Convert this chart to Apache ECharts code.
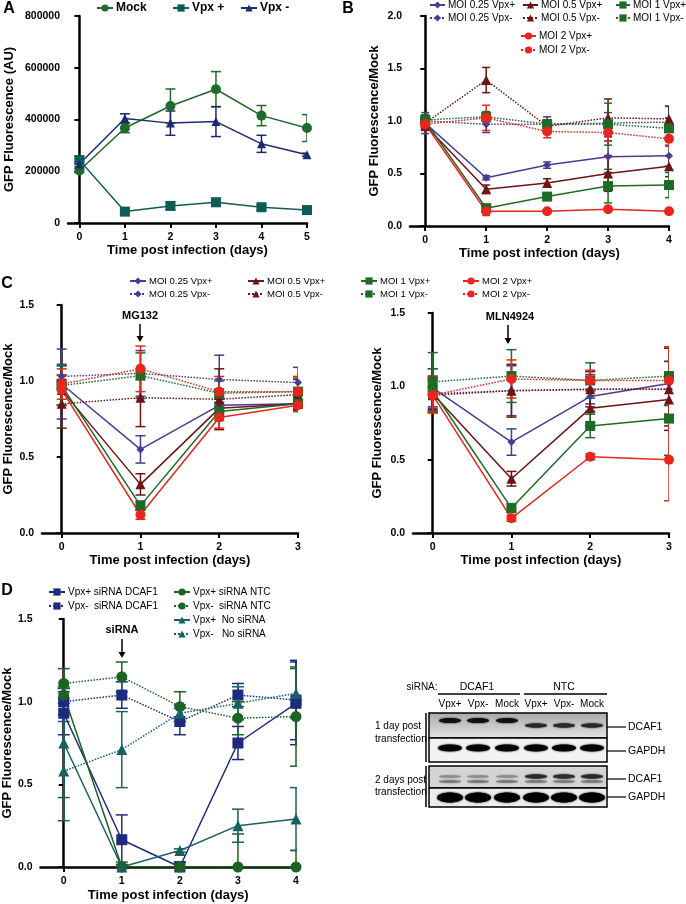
<!DOCTYPE html>
<html>
<head>
<meta charset="utf-8">
<script src="https://cdn.jsdelivr.net/npm/echarts@6/dist/echarts.min.js"></script>
<style>html,body{margin:0;padding:0;background:#fff}#c{width:686px;height:904px}</style>
</head>
<body>
<div id="c"></div>
<script>
// ---------- DATA ----------
// Panel A
const daysA = [0, 1, 2, 3, 4, 5];
const A_mock = [203000, 367000, 452000, 517000, 415000, 367000];
const A_mock_err = [8000, 18000, 66000, 68000, 39000, 52000];
const A_vpxPlus = [243000, 44000, 66000, 80000, 61000, 50000];
const A_vpxPlus_err = [15000, 8000, 14000, 15000, 10000, 10000];
const A_vpxMinus = [228000, 404000, 386000, 392000, 306000, 264000];
const A_vpxMinus_err = [10000, 18000, 47000, 58000, 33000, 6000];
const A_yTicks = [0, 200000, 400000, 600000, 800000];

// Panel B
const daysB = [0, 1, 2, 3, 4];
const B_025p = [0.98, 0.46, 0.58, 0.66, 0.67];
const B_025p_err = [0.10, 0.02, 0.03, 0.15, 0.10];
const B_025m = [1.00, 0.97, 0.97, 0.98, 0.99];
const B_025m_err = [0.05, 0.08, 0.07, 0.10, 0.15];
const B_05p = [0.96, 0.35, 0.41, 0.50, 0.57];
const B_05p_err = [0.05, 0.04, 0.04, 0.17, 0.10];
const B_05m = [0.98, 1.39, 0.95, 1.03, 1.02];
const B_05m_err = [0.05, 0.12, 0.05, 0.18, 0.12];
const B_1p = [1.00, 0.17, 0.28, 0.38, 0.39];
const B_1p_err = [0.06, 0.02, 0.03, 0.16, 0.12];
const B_1m = [1.01, 1.04, 0.97, 0.97, 0.93];
const B_1m_err = [0.05, 0.05, 0.04, 0.20, 0.10];
const B_2p = [0.97, 0.14, 0.14, 0.16, 0.14];
const B_2p_err = [0.05, 0.04, 0.01, 0.01, 0.01];
const B_2m = [0.97, 1.03, 0.90, 0.89, 0.83];
const B_2m_err = [0.05, 0.12, 0.06, 0.08, 0.07];

// Panel C (left: MG132, right: MLN4924)
const daysC = [0, 1, 2, 3];
const CL_025p = [0.98, 0.55, 0.84, 0.85];  const CL_025p_err = [0.23, 0.09, 0.05, 0.04];
const CL_025m = [1.03, 1.05, 1.01, 0.99];  const CL_025m_err = [0.08, 0.15, 0.16, 0.10];
const CL_05p  = [0.94, 0.32, 0.82, 0.85];  const CL_05p_err  = [0.10, 0.07, 0.06, 0.05];
const CL_05m  = [0.85, 0.89, 0.88, 0.91];  const CL_05m_err  = [0.16, 0.19, 0.20, 0.10];
const CL_1p   = [0.97, 0.18, 0.80, 0.85];  const CL_1p_err   = [0.13, 0.03, 0.06, 0.05];
const CL_1m   = [0.97, 1.035, 0.92, 0.93]; const CL_1m_err   = [0.13, 0.15, 0.08, 0.09];
const CL_2p   = [0.94, 0.12, 0.76, 0.84];  const CL_2p_err   = [0.10, 0.03, 0.07, 0.04];
const CL_2m   = [0.98, 1.08, 0.93, 0.93];  const CL_2m_err   = [0.10, 0.15, 0.10, 0.10];

const CR_025p = [0.99, 0.62, 0.93, 1.02];  const CR_025p_err = [0.13, 0.09, 0.10, 0.15];
const CR_025m = [0.95, 0.97, 0.98, 0.98];  const CR_025m_err = [0.10, 0.17, 0.10, 0.19];
const CR_05p  = [0.95, 0.37, 0.85, 0.91];  const CR_05p_err  = [0.12, 0.05, 0.12, 0.18];
const CR_05m  = [0.94, 0.97, 0.98, 0.98];  const CR_05m_err  = [0.10, 0.18, 0.12, 0.28];
const CR_1p   = [0.97, 0.17, 0.73, 0.78];  const CR_1p_err   = [0.15, 0.03, 0.08, 0.25];
const CR_1m   = [1.03, 1.07, 1.04, 1.07];  const CR_1m_err   = [0.20, 0.18, 0.12, 0.20];
const CR_2p   = [0.94, 0.10, 0.52, 0.50];  const CR_2p_err   = [0.12, 0.02, 0.02, 0.28];
const CR_2m   = [0.94, 1.05, 1.04, 1.04];  const CR_2m_err   = [0.12, 0.13, 0.07, 0.23];

// Panel D
const daysD = [0, 1, 2, 3, 4];
const D_dcafP = [0.93, 0.165, 0.00, 0.75, 0.99]; const D_dcafP_err = [0.13, 0.15, 0.03, 0.10, 0.25];
const D_dcafM = [1.00, 1.04, 0.88, 1.04, 1.01];  const D_dcafM_err = [0.08, 0.08, 0.08, 0.07, 0.24];
const D_ntcP  = [1.04, 0.00, 0.00, 0.00, 0.00];  const D_ntcP_err  = [0.05, 0.03, 0.03, 0.20, 0.10];
const D_ntcM  = [1.11, 1.15, 0.97, 0.90, 0.91];  const D_ntcM_err  = [0.09, 0.09, 0.09, 0.10, 0.30];
const D_noP   = [0.75, 0.00, 0.10, 0.25, 0.29];  const D_noP_err   = [0.33, 0.00, 0.01, 0.10, 0.19];
const D_noM   = [0.58, 0.71, 0.93, 0.99, 1.05];  const D_noM_err   = [0.30, 0.23, 0.05, 0.10, 0.15];

const ratioTicks = [0, 0.5, 1.0, 1.5];

// ---------- STYLES ----------
const FONT = 'Liberation Sans, Arial, Helvetica, sans-serif';
const col = {
  mock: '#1f6b2c', vpxP: '#0d5c55', vpxM: '#1d2a6e',
  m025: '#4a3a94', m05: '#6e1414', m1: '#1d6b25', m2: '#e8261e',
  navy: '#1e2a80', green: '#196420', teal: '#1a6060'
};

const chart = echarts.init(document.getElementById('c'), null, {renderer: 'canvas'});

const series = [];
function add(gi, name, xs, ys, es, color, symbol, size, dotted, cap) {
  series.push({
    type: 'custom', xAxisIndex: gi, yAxisIndex: gi, silent: true, clip: true, z: 2,
    encode: {x: 0, y: 1},
    data: xs.map((x, i) => [x, ys[i], es[i]]),
    renderItem: function (params, api) {
      const x = api.value(0), y = api.value(1), e = api.value(2);
      const t = api.coord([x, y + e]), b = api.coord([x, y - e]);
      const st = {stroke: color, lineWidth: 1.5};
      return {type: 'group', children: [
        {type: 'line', shape: {x1: t[0], y1: t[1], x2: b[0], y2: b[1]}, style: st},
        {type: 'line', shape: {x1: t[0] - cap, y1: t[1], x2: t[0] + cap, y2: t[1]}, style: st},
        {type: 'line', shape: {x1: b[0] - cap, y1: b[1], x2: b[0] + cap, y2: b[1]}, style: st}
      ]};
    }
  });
  series.push({
    type: 'line', name: name, xAxisIndex: gi, yAxisIndex: gi, z: 3,
    data: xs.map((x, i) => [x, ys[i]]),
    symbol: symbol, symbolSize: size, showAllSymbol: true,
    itemStyle: {color: color},
    lineStyle: {color: color, width: 1.5, type: dotted ? 'dotted' : 'solid'},
    emphasis: {disabled: true}, animation: false
  });
}

// A
add(0, 'Mock', daysA, A_mock, A_mock_err, col.mock, 'circle', 10, false, 5);
add(0, 'Vpx +', daysA, A_vpxPlus, A_vpxPlus_err, col.vpxP, 'rect', 10, false, 5);
add(0, 'Vpx -', daysA, A_vpxMinus, A_vpxMinus_err, col.vpxM, 'triangle', 9, false, 5);
// B
add(1, 'MOI 0.25 Vpx+', daysB, B_025p, B_025p_err, col.m025, 'diamond', 8, false, 4);
add(1, 'MOI 0.25 Vpx-', daysB, B_025m, B_025m_err, col.m025, 'diamond', 8, true, 4);
add(1, 'MOI 0.5 Vpx+', daysB, B_05p, B_05p_err, col.m05, 'triangle', 10, false, 4);
add(1, 'MOI 0.5 Vpx-', daysB, B_05m, B_05m_err, col.m05, 'triangle', 10, true, 4);
add(1, 'MOI 1 Vpx+', daysB, B_1p, B_1p_err, col.m1, 'rect', 10, false, 4);
add(1, 'MOI 1 Vpx-', daysB, B_1m, B_1m_err, col.m1, 'rect', 10, true, 4);
add(1, 'MOI 2 Vpx+', daysB, B_2p, B_2p_err, col.m2, 'circle', 10, false, 4);
add(1, 'MOI 2 Vpx-', daysB, B_2m, B_2m_err, col.m2, 'circle', 10, true, 4);
// C left
add(2, 'MOI 0.25 Vpx+', daysC, CL_025p, CL_025p_err, col.m025, 'diamond', 8, false, 5);
add(2, 'MOI 0.25 Vpx-', daysC, CL_025m, CL_025m_err, col.m025, 'diamond', 8, true, 5);
add(2, 'MOI 0.5 Vpx+', daysC, CL_05p, CL_05p_err, col.m05, 'triangle', 10, false, 5);
add(2, 'MOI 0.5 Vpx-', daysC, CL_05m, CL_05m_err, col.m05, 'triangle', 10, true, 5);
add(2, 'MOI 1 Vpx+', daysC, CL_1p, CL_1p_err, col.m1, 'rect', 10, false, 5);
add(2, 'MOI 1 Vpx-', daysC, CL_1m, CL_1m_err, col.m1, 'rect', 10, true, 5);
add(2, 'MOI 2 Vpx+', daysC, CL_2p, CL_2p_err, col.m2, 'circle', 10, false, 5);
add(2, 'MOI 2 Vpx-', daysC, CL_2m, CL_2m_err, col.m2, 'circle', 10, true, 5);
// C right
add(3, 'MOI 0.25 Vpx+', daysC, CR_025p, CR_025p_err, col.m025, 'diamond', 8, false, 5);
add(3, 'MOI 0.25 Vpx-', daysC, CR_025m, CR_025m_err, col.m025, 'diamond', 8, true, 5);
add(3, 'MOI 0.5 Vpx+', daysC, CR_05p, CR_05p_err, col.m05, 'triangle', 10, false, 5);
add(3, 'MOI 0.5 Vpx-', daysC, CR_05m, CR_05m_err, col.m05, 'triangle', 10, true, 5);
add(3, 'MOI 1 Vpx+', daysC, CR_1p, CR_1p_err, col.m1, 'rect', 10, false, 5);
add(3, 'MOI 1 Vpx-', daysC, CR_1m, CR_1m_err, col.m1, 'rect', 10, true, 5);
add(3, 'MOI 2 Vpx+', daysC, CR_2p, CR_2p_err, col.m2, 'circle', 10, false, 5);
add(3, 'MOI 2 Vpx-', daysC, CR_2m, CR_2m_err, col.m2, 'circle', 10, true, 5);
// D
add(4, 'Vpx+ siRNA DCAF1', daysD, D_dcafP, D_dcafP_err, col.navy, 'rect', 11, false, 6);
add(4, 'Vpx-  siRNA DCAF1', daysD, D_dcafM, D_dcafM_err, col.navy, 'rect', 11, true, 6);
add(4, 'Vpx+ siRNA NTC', daysD, D_ntcP, D_ntcP_err, col.green, 'circle', 11, false, 6);
add(4, 'Vpx-  siRNA NTC', daysD, D_ntcM, D_ntcM_err, col.green, 'circle', 11, true, 6);
add(4, 'Vpx+  No siRNA', daysD, D_noP, D_noP_err, col.teal, 'triangle', 11, false, 6);
add(4, 'Vpx-   No siRNA', daysD, D_noM, D_noM_err, col.teal, 'triangle', 11, true, 6);

// ---------- AXES ----------
const grids = [
  {left: 68, top: 16, width: 239, height: 207},
  {left: 410, top: 16, width: 259, height: 210},
  {left: 42, top: 305, width: 256, height: 228},
  {left: 413, top: 313, width: 256, height: 220},
  {left: 40, top: 619, width: 256, height: 248}
];
function xAx(gi, min, max, ticks, gap) {
  return {
    type: 'value', gridIndex: gi, min: min, max: max,
    name: 'Time post infection (days)', nameLocation: 'middle', nameGap: gap,
    nameTextStyle: {fontFamily: FONT, fontWeight: 'bold', fontSize: 13, color: '#000'},
    axisLine: {show: true, onZero: false, lineStyle: {color: '#000', width: 2.5}},
    axisTick: {show: true, customValues: ticks, length: 5, lineStyle: {color: '#000', width: 2}},
    axisLabel: {customValues: ticks, margin: 9, fontFamily: FONT, fontWeight: 'bold', fontSize: 10.5, color: '#000'},
    splitLine: {show: false}
  };
}
function yAx(gi, max, interval, name, gap, fmt) {
  return {
    type: 'value', gridIndex: gi, min: 0, max: max, interval: interval,
    name: name, nameLocation: 'middle', nameGap: gap, nameRotate: 90,
    nameTextStyle: {fontFamily: FONT, fontWeight: 'bold', fontSize: 13, color: '#000'},
    axisLine: {show: true, lineStyle: {color: '#000', width: 2.5}},
    axisTick: {show: true, length: 5, lineStyle: {color: '#000', width: 2}},
    axisLabel: {margin: 8, fontFamily: FONT, fontWeight: 'bold', fontSize: 10.5, color: '#000', formatter: fmt},
    splitLine: {show: false}
  };
}
const f1 = v => v.toFixed(1);
const f0 = v => String(v);

// ---------- LEGENDS ----------
function leg(names, left, top, size, bold, gap, orient, iw) {
  return {
    data: names, left: left, top: top, orient: orient || 'vertical', itemGap: gap,
    itemWidth: iw || 16, itemHeight: 9, padding: 0, selectedMode: false,
    textStyle: {fontFamily: FONT, fontSize: size, fontWeight: bold ? 'bold' : 'normal', color: '#000', padding: [0, 0, 0, -2]}
  };
}
const legends = [
  leg(['Mock'], 96, 2, 12, true, 0, 'horizontal'),
  leg(['Vpx +'], 172, 2, 12, true, 0, 'horizontal'),
  leg(['Vpx -'], 240, 2, 12, true, 0, 'horizontal'),
  leg(['MOI 0.25 Vpx+', 'MOI 0.25 Vpx-'], 429, 0, 10, false, 3, 'vertical', 15),
  leg(['MOI 0.5 Vpx+', 'MOI 0.5 Vpx-'], 522, 0, 10, false, 3, 'vertical', 15),
  leg(['MOI 1 Vpx+', 'MOI 1 Vpx-'], 615, 0, 10, false, 3, 'vertical', 14),
  leg(['MOI 2 Vpx+', 'MOI 2 Vpx-'], 520, 31, 10, false, 4, 'vertical', 15),
  leg(['MOI 0.25 Vpx+', 'MOI 0.25 Vpx-'], 129, 276, 9.5, false, 3),
  leg(['MOI 0.5 Vpx+', 'MOI 0.5 Vpx-'], 247, 276, 9.5, false, 3),
  leg(['MOI 1 Vpx+', 'MOI 1 Vpx-'], 360, 276, 9.5, false, 3),
  leg(['MOI 2 Vpx+', 'MOI 2 Vpx-'], 462, 276, 9.5, false, 3),
  leg(['Vpx+ siRNA DCAF1', 'Vpx-  siRNA DCAF1'], 48, 587, 10, false, 4),
  leg(['Vpx+ siRNA NTC', 'Vpx-  siRNA NTC', 'Vpx+  No siRNA', 'Vpx-   No siRNA'], 173, 587, 10, false, 4)
];

// ---------- ANNOTATIONS & BLOT ----------
const g = [];
function txt(x, y, s, size, bold, align) {
  g.push({type: 'text', x: x, y: y, silent: true, style: {text: s, fontFamily: FONT, fontSize: size,
    fontWeight: bold ? 'bold' : 'normal', fill: '#000', align: align || 'center', verticalAlign: 'middle'}});
}
function arrow(x, y1, y2) {
  g.push({type: 'line', silent: true, shape: {x1: x, y1: y1, x2: x, y2: y2 - 3}, style: {stroke: '#000', lineWidth: 1.5}});
  g.push({type: 'polygon', silent: true, shape: {points: [[x - 3.5, y2 - 6], [x + 3.5, y2 - 6], [x, y2]]}, style: {fill: '#000'}});
}
function ln(x1, y1, x2, y2, w) {
  g.push({type: 'line', silent: true, shape: {x1: x1, y1: y1, x2: x2, y2: y2}, style: {stroke: '#000', lineWidth: w || 1.5}});
}
txt(9, 9, 'A', 16, true); txt(348, 9, 'B', 16, true); txt(7, 284, 'C', 16, true); txt(7, 591, 'D', 16, true);
txt(140, 316, 'MG132', 11, true); arrow(140, 324, 342);
txt(510, 317, 'MLN4924', 11, true); arrow(508, 325, 344);
txt(122, 630, 'siRNA', 11, true); arrow(122, 639, 658);

// western blot
const lanes = [450, 478, 507, 536, 564, 592];
txt(422, 687, 'siRNA:', 10, false); txt(477, 687, 'DCAF1', 10.5, false); txt(564, 687, 'NTC', 10.5, false);
ln(438, 694, 520, 694, 1.5); ln(524, 694, 607, 694, 1.5);
['Vpx+', 'Vpx-', 'Mock', 'Vpx+', 'Vpx-', 'Mock'].forEach((s, i) => txt(lanes[i], 704, s, 10, false));
function box(y, h, fill) {
  g.push({type: 'rect', silent: true, shape: {x: 429, y: y, width: 178, height: h}, style: {fill: fill, stroke: '#000', lineWidth: 1.5}});
}
function band(cx, cy, rx, ry, fill, blur) {
  g.push({type: 'ellipse', silent: true, shape: {cx: cx, cy: cy, rx: rx, ry: ry}, style: {fill: fill, shadowBlur: blur || 2, shadowColor: fill}});
}
box(713, 25, new echarts.graphic.LinearGradient(0, 0, 0, 1, [{offset: 0, color: '#a9a9a9'}, {offset: 1, color: '#e4e4e4'}]));
lanes.forEach((x, i) => band(x, i < 3 ? 720.5 : 725.5, 11, i < 3 ? 2.6 : 2.2, i < 3 ? '#111' : '#2a2a2a'));
box(738, 24, '#f2f2f2');
lanes.forEach((x) => band(x, 748, 12, 3.4, '#050505'));
box(766, 22, '#d4d4d4');
lanes.forEach((x, i) => { band(x, 776.5, 11, i < 3 ? 1.2 : 2.2, i < 3 ? '#8a8a8a' : '#2b2b2b'); band(x, 781.5, 11, 1.3, '#777'); });
box(788, 19, '#ededed');
lanes.forEach((x) => band(x, 797.5, 13, 5, '#000'));
ln(426, 713, 426, 762, 1.5); ln(426, 766, 426, 807, 1.5);
txt(375, 726, '1 day post', 10, false, 'left'); txt(375, 739, 'transfection', 10, false, 'left');
txt(375, 780, '2 days post', 10, false, 'left'); txt(375, 792, 'transfection', 10, false, 'left');
[[727, 'DCAF1'], [751, 'GAPDH'], [779, 'DCAF1'], [797, 'GAPDH']].forEach(([y, s]) => {
  ln(607, y, 626, y, 1.2); txt(628, y, s, 10.5, false, 'left');
});

chart.setOption({
  animation: false,
  backgroundColor: '#fff',
  grid: grids,
  xAxis: [
    xAx(0, -0.25, 5, daysA, 17),
    xAx(1, -0.25, 4, daysB, 14),
    xAx(2, -0.25, 3, daysC, 21),
    xAx(3, -0.25, 3, daysC, 21),
    xAx(4, -0.4, 4, daysD, 22)
  ],
  yAxis: [
    yAx(0, 800000, 200000, 'GFP Fluorescence (AU)', 52, f0),
    yAx(1, 2.0, 0.5, 'GFP Fluorescence/Mock', 29, f1),
    yAx(2, 1.5, 0.5, 'GFP Fluorescence/Mock', 27, f1),
    yAx(3, 1.5, 0.5, 'GFP Fluorescence/Mock', 29, f1),
    yAx(4, 1.5, 0.5, 'GFP Fluorescence/Mock', 25, f1)
  ],
  legend: legends,
  series: series,
  graphic: g
});
</script>
</body>
</html>
